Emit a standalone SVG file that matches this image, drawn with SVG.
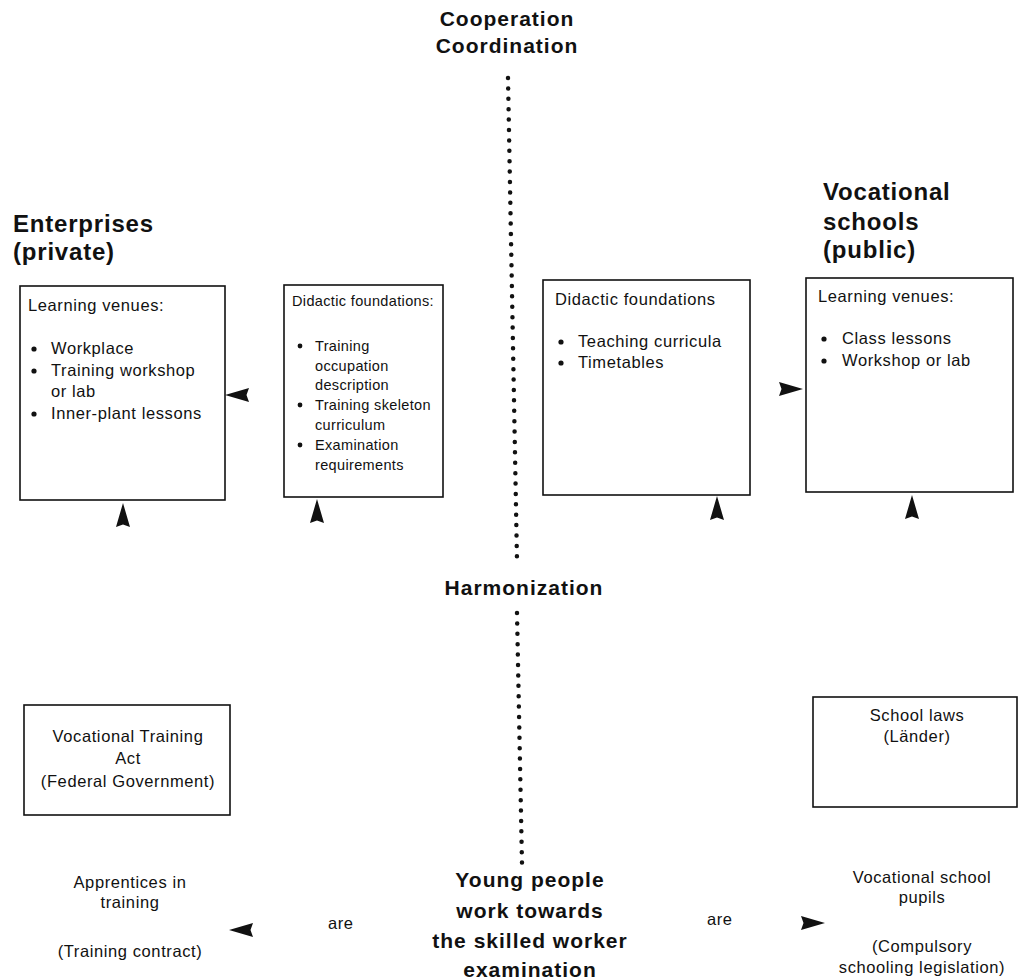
<svg xmlns="http://www.w3.org/2000/svg" width="1019" height="980" viewBox="0 0 1019 980">
  <style>
    .body { font-family: "Liberation Sans", Arial, Helvetica, sans-serif; font-size: 16.5px; letter-spacing: 0.6px; fill: #111; }
    .small { font-size: 14.5px; letter-spacing: 0.35px; }
    .mid { text-anchor: middle; }
    .head { font-family: "Liberation Sans", Arial, Helvetica, sans-serif; font-weight: bold; font-size: 24px; letter-spacing: 0.8px; fill: #111; }
    .key { font-family: "Liberation Sans", Arial, Helvetica, sans-serif; font-weight: bold; font-size: 21px; letter-spacing: 1px; fill: #111; text-anchor: middle; }
    .box { fill: #fff; stroke: #111; stroke-width: 1.6; }
    .dots { fill: none; stroke: #111; stroke-width: 4.5; stroke-linecap: round; stroke-dasharray: 0 10.4; }
    .arrow { fill: #111; }
    .bullet { fill: #111; }
  </style>
  <defs>
    <!-- solid arrowhead, tip at the origin, pointing along +x -->
    <path id="head" d="M0,0 L-24,-7 L-21.5,0 L-24,7 Z"/>
  </defs>

  <rect width="1019" height="980" fill="#fff"/>

  <!-- centre axis -->
  <g id="axis-labels">
    <text class="key" x="507" y="26">Cooperation</text>
    <text class="key" x="507" y="53">Coordination</text>
    <text class="key" x="524" y="595">Harmonization</text>
  </g>

  <g id="connectors">
    <path class="dots" d="M508,78 L517,561"/>
    <path class="dots" d="M517,613 L522,864"/>
    <use href="#head" class="arrow" transform="translate(225,395) rotate(180)"/>
    <use href="#head" class="arrow" transform="translate(123,503) rotate(-90)"/>
    <use href="#head" class="arrow" transform="translate(317,499) rotate(-90)"/>
    <use href="#head" class="arrow" transform="translate(803,389)"/>
    <use href="#head" class="arrow" transform="translate(717,496) rotate(-90)"/>
    <use href="#head" class="arrow" transform="translate(912,495) rotate(-90)"/>
    <use href="#head" class="arrow" transform="translate(229,930) rotate(180)"/>
    <use href="#head" class="arrow" transform="translate(825,923)"/>
  </g>

  <!-- private side -->
  <g id="enterprises">
    <text class="head" x="13" y="232">Enterprises</text>
    <text class="head" x="13" y="260">(private)</text>
  </g>

  <g id="ent-venues">
    <rect class="box" x="20" y="286" width="205" height="214"/>
    <text class="body" x="28" y="311">Learning venues:</text>
    <circle class="bullet" cx="34" cy="349" r="2.6"/>
    <circle class="bullet" cx="34" cy="371" r="2.6"/>
    <circle class="bullet" cx="34" cy="414" r="2.6"/>
    <text class="body" x="51" y="354">Workplace</text>
    <text class="body" x="51" y="376">Training workshop</text>
    <text class="body" x="51" y="397">or lab</text>
    <text class="body" x="51" y="419">Inner-plant lessons</text>
  </g>

  <g id="ent-didactic">
    <rect class="box" x="284" y="285" width="159" height="212"/>
    <text class="body small" x="292" y="306">Didactic foundations:</text>
    <circle class="bullet" cx="300" cy="346" r="2.4"/>
    <circle class="bullet" cx="300" cy="405" r="2.4"/>
    <circle class="bullet" cx="300" cy="445" r="2.4"/>
    <text class="body small" x="315" y="351">Training</text>
    <text class="body small" x="315" y="371">occupation</text>
    <text class="body small" x="315" y="390">description</text>
    <text class="body small" x="315" y="410">Training skeleton</text>
    <text class="body small" x="315" y="430">curriculum</text>
    <text class="body small" x="315" y="450">Examination</text>
    <text class="body small" x="315" y="470">requirements</text>
  </g>

  <!-- public side -->
  <g id="schools">
    <text class="head" x="823" y="200">Vocational</text>
    <text class="head" x="823" y="230">schools</text>
    <text class="head" x="823" y="258">(public)</text>
  </g>

  <g id="sch-didactic">
    <rect class="box" x="543" y="280" width="207" height="215"/>
    <text class="body" x="555" y="305">Didactic foundations</text>
    <circle class="bullet" cx="561" cy="342" r="2.6"/>
    <circle class="bullet" cx="561" cy="363" r="2.6"/>
    <text class="body" x="578" y="347">Teaching curricula</text>
    <text class="body" x="578" y="368">Timetables</text>
  </g>

  <g id="sch-venues">
    <rect class="box" x="806" y="278" width="207" height="214"/>
    <text class="body" x="818" y="302">Learning venues:</text>
    <circle class="bullet" cx="824" cy="339" r="2.6"/>
    <circle class="bullet" cx="824" cy="361" r="2.6"/>
    <text class="body" x="842" y="344">Class lessons</text>
    <text class="body" x="842" y="366">Workshop or lab</text>
  </g>

  <!-- legal basis -->
  <g id="training-act">
    <rect class="box" x="24" y="705" width="206" height="110"/>
    <text class="body mid" x="128" y="742">Vocational Training</text>
    <text class="body mid" x="128" y="764">Act</text>
    <text class="body mid" x="128" y="787">(Federal Government)</text>
  </g>

  <g id="school-laws">
    <rect class="box" x="813" y="697" width="204" height="110"/>
    <text class="body mid" x="917" y="721">School laws</text>
    <text class="body mid" x="917" y="742">(Länder)</text>
  </g>

  <!-- the learners -->
  <g id="apprentices">
    <text class="body mid" x="130" y="888">Apprentices in</text>
    <text class="body mid" x="130" y="908">training</text>
    <text class="body mid" x="130" y="957">(Training contract)</text>
  </g>

  <g id="young-people">
    <text class="key" x="530" y="887">Young people</text>
    <text class="key" x="530" y="918">work towards</text>
    <text class="key" x="530" y="948">the skilled worker</text>
    <text class="key" x="530" y="977">examination</text>
  </g>

  <g id="pupils">
    <text class="body mid" x="922" y="883">Vocational school</text>
    <text class="body mid" x="922" y="903">pupils</text>
    <text class="body mid" x="922" y="952">(Compulsory</text>
    <text class="body mid" x="922" y="973">schooling legislation)</text>
  </g>

  <g id="are-labels">
    <text class="body" x="328" y="929">are</text>
    <text class="body" x="707" y="925">are</text>
  </g>
</svg>
